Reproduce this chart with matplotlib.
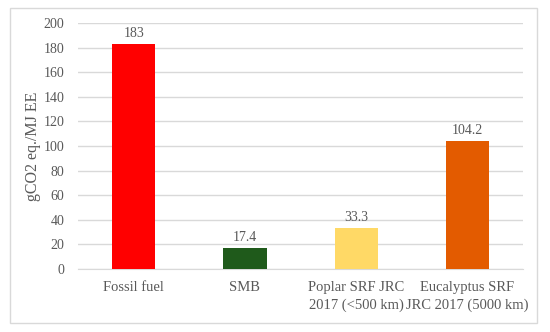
import matplotlib.pyplot as plt
from matplotlib.patches import Rectangle

categories = ["Fossil fuel", "SMB", "Poplar SRF JRC\n2017 (<500 km)", "Eucalyptus SRF\nJRC 2017 (5000 km)"]
values = [183, 17.4, 33.3, 104.2]
labels = ["183", "17.4", "33.3", "104.2"]
colors = ["#FF0000", "#1F5A1B", "#FFD966", "#E35B00"]

plt.rcParams['font.family'] = ['Liberation Serif', 'DejaVu Serif']
grey = "#595959"

fig = plt.figure(figsize=(5.5, 3.32), dpi=100)
ax = fig.add_axes([0.142, 0.19, 0.809, 0.741])

# outer chart border
fig.patches.append(Rectangle((0.018, 0.027), 0.958, 0.948, transform=fig.transFigure,
                             fill=False, edgecolor="#D9D9D9", linewidth=1))

x = range(len(categories))
ax.bar(x, values, width=0.39, color=colors, zorder=3)
for i, v in enumerate(values):
    ax.text(i, v + 3, labels[i], ha="center", va="bottom", fontsize=10, color=grey)

ax.set_ylim(0, 200)
ax.set_xlim(-0.5, 3.5)
ax.set_yticks(range(0, 201, 20))
ax.yaxis.grid(True, color="#D9D9D9", linewidth=1, zorder=0)
for s in ax.spines.values():
    s.set_visible(False)
ax.spines["bottom"].set_visible(True)
ax.spines["bottom"].set_color("#D9D9D9")
ax.tick_params(axis="y", length=0, labelsize=10, labelcolor=grey, pad=10)
ax.tick_params(axis="x", length=0, labelsize=10.5, labelcolor=grey, pad=9)
ax.set_xticks(list(x))
ax.set_xticklabels(categories, linespacing=1.4)
ax.set_ylabel("gCO2 eq./MJ EE", fontsize=11.5, color=grey, labelpad=2)

fig.savefig("out.png", dpi=100)
